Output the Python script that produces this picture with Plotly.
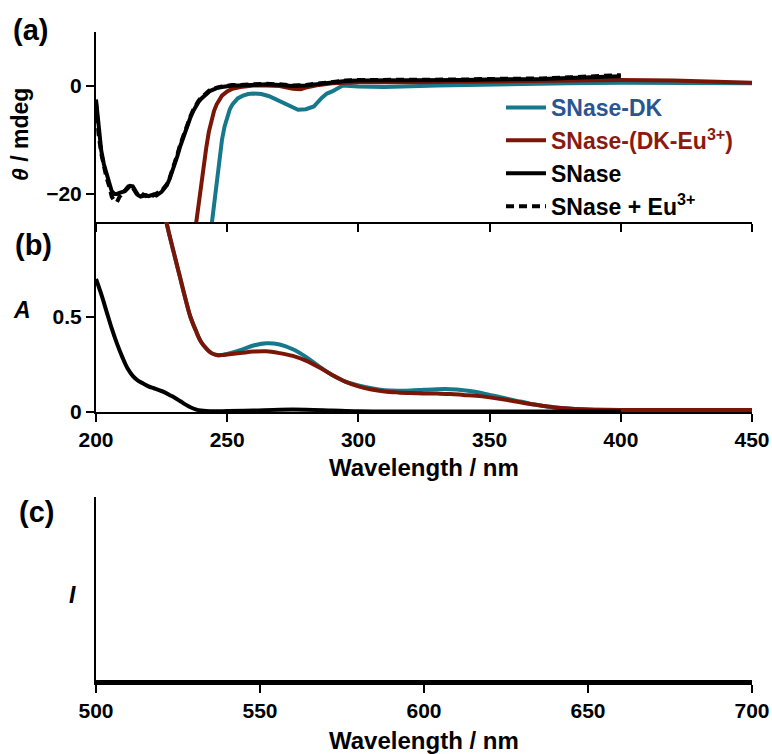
import plotly.graph_objects as go

W, H = 772, 754

# ---------------- data ----------------
# (a) CD spectra
cd_snase_wl = [200,201,202,203,204,205,206,207,208,209,210,211,212,213,214,215,216,217,218,219,220,
               221,222,223,224,225,226,227,228,229,230,231,232,233,234,235,236,237,238,239,240,241,
               242,243,244,245,246,248,250,252,255,260,265,270,275,280,285,290,295,300,310,320,330,
               340,350,360,370,380,390,400]
cd_snase = [-2.5,-8,-12,-14.5,-16,-18,-19.5,-20,-20,-19.8,-19.6,-19.5,-19,-18.5,-18.6,-19.5,-20.2,-20.5,
            -20.3,-20.2,-20.4,-20.3,-20.1,-20.3,-20,-19.6,-19,-18.4,-17.3,-16,-14.5,-13,-11.3,-9.8,-8.3,
            -7,-5.8,-4.7,-3.8,-3,-2.4,-1.9,-1.5,-1.1,-0.8,-0.6,-0.4,-0.2,0,0.1,0.1,0.2,0.3,0.2,0.0,0.1,
            0.4,0.7,0.9,1.0,1.0,1.0,1.1,1.1,1.2,1.2,1.3,1.5,1.7,1.8]
cd_snase_eu = [-3,-9,-12.5,-15,-17,-18.5,-20.5,-21.3,-21.5,-20.5,-19.8,-19.4,-18.8,-18.3,-18.8,-19.7,
               -20.4,-20.6,-20.1,-20.4,-20.2,-20.5,-20.2,-20.1,-19.8,-19.4,-18.8,-18.2,-17.1,-15.8,-14.2,
               -12.7,-11,-9.5,-8,-6.8,-5.6,-4.5,-3.6,-2.8,-2.2,-1.7,-1.3,-0.9,-0.6,-0.4,-0.3,-0.1,0.1,0.2,
               0.2,0.3,0.4,0.3,0.1,0.2,0.5,0.8,1.0,1.1,1.1,1.1,1.2,1.2,1.3,1.3,1.4,1.6,1.8,2.0]

cd_dkeu_wl = [238,239,240,241,242,243,244,245,246,247,248,250,252,255,258,260,265,270,275,278,280,285,
              290,300,320,350,380,400,420,450]
cd_dkeu = [-26,-22,-18.5,-15,-11.5,-8.5,-6.3,-4.6,-3.4,-2.5,-1.8,-1,-0.5,-0.2,0,0.1,0.1,0,-0.5,-0.6,
           -0.3,0.2,0.5,0.7,0.7,0.9,1.0,1.1,1.0,0.6]

cd_dk_wl = [244,245,246,247,248,249,250,251,252,254,256,258,260,263,266,270,274,277,280,283,286,288,290,
            294,300,310,330,350,380,400,420,450]
cd_dk = [-26,-22,-17.5,-13.5,-10,-7.5,-5.6,-4.3,-3.4,-2.3,-1.8,-1.5,-1.4,-1.5,-1.9,-2.8,-3.9,-4.4,-4.3,
         -3.8,-2.2,-1.4,-1.0,0.1,-0.1,-0.2,0.1,0.3,0.5,0.6,0.6,0.5]

# (b) absorption spectra
ab_snase_wl = [200,202,204,206,208,210,212,214,216,218,220,222,224,226,228,230,232,234,236,238,240,245,
               250,260,270,280,290,300,320,350,380,400]
ab_snase = [0.70,0.62,0.53,0.44,0.36,0.29,0.23,0.19,0.165,0.15,0.135,0.125,0.115,0.105,0.09,0.075,0.058,
            0.04,0.025,0.014,0.008,0.004,0.005,0.008,0.012,0.012,0.008,0.004,0.003,0.003,0.003,0.003]

ab_dk_wl = [226,228,230,232,234,236,238,240,242,244,246,248,250,255,260,265,270,275,280,285,290,295,300,
            305,310,315,320,325,330,335,340,345,350,355,360,365,370,375,380,385,390,400,420,450]
ab_dk = [1.05,0.93,0.82,0.71,0.60,0.50,0.43,0.37,0.335,0.31,0.30,0.30,0.305,0.325,0.35,0.362,0.355,0.33,
         0.29,0.24,0.195,0.16,0.14,0.125,0.115,0.112,0.113,0.117,0.12,0.12,0.115,0.105,0.09,0.075,0.06,
         0.045,0.033,0.024,0.018,0.014,0.012,0.011,0.01,0.01]
ab_dkeu = [1.05,0.93,0.82,0.71,0.60,0.50,0.43,0.37,0.335,0.31,0.30,0.30,0.303,0.31,0.318,0.32,0.31,0.295,
           0.27,0.235,0.195,0.16,0.135,0.118,0.108,0.103,0.1,0.098,0.097,0.095,0.09,0.085,0.077,0.067,
           0.055,0.043,0.033,0.024,0.018,0.014,0.012,0.011,0.01,0.01]

# (c) emission spectra (flat)
em_wl = [500,550,600,650,700]
em_dk = [0,0,0,0,0]
em_dkeu = [0,0,0,0,0]
em_snase = [0,0,0,0,0]
em_snase_eu = [0,0,0,0,0]

x_ticks_ab = [200,250,300,350,400,450]
x_ticks_em = [500,550,600,650,700]

# ---------------- style ----------------
TEAL = "#16788b"
DRED = "#7b1607"
LBLUE = "#2b5592"
LRED = "#8a1a10"
FONT = "Liberation Sans, Arial, sans-serif"
LW = 4

def px(x):
    return x / W

def py(y):
    return 1 - y / H

fig = go.Figure()

names = [f"<span style='color:{LBLUE}'>SNase-DK</span>",
         f"<span style='color:{LRED}'>SNase-(DK-Eu<sup>3+</sup>)</span>",
         "SNase",
         "SNase + Eu<sup>3+</sup>"]

# panel a
fig.add_trace(go.Scatter(x=cd_dk_wl, y=cd_dk, mode="lines", line=dict(color=TEAL, width=LW),
                         name=names[0], legendgroup="g1", xaxis="x", yaxis="y"))
fig.add_trace(go.Scatter(x=cd_dkeu_wl, y=cd_dkeu, mode="lines", line=dict(color=DRED, width=LW),
                         name=names[1], legendgroup="g2", xaxis="x", yaxis="y"))
fig.add_trace(go.Scatter(x=cd_snase_wl, y=cd_snase, mode="lines", line=dict(color="black", width=LW),
                         name=names[2], legendgroup="g3", xaxis="x", yaxis="y"))
fig.add_trace(go.Scatter(x=cd_snase_wl, y=cd_snase_eu, mode="lines",
                         line=dict(color="black", width=LW, dash="8px,5px"),
                         name=names[3], legendgroup="g4", xaxis="x", yaxis="y"))

# panel b
fig.add_trace(go.Scatter(x=ab_dk_wl, y=ab_dk, mode="lines", line=dict(color=TEAL, width=LW, shape="spline"),
                         showlegend=False, xaxis="x2", yaxis="y2"))
fig.add_trace(go.Scatter(x=ab_dk_wl, y=ab_dkeu, mode="lines", line=dict(color=DRED, width=LW, shape="spline"),
                         showlegend=False, xaxis="x2", yaxis="y2"))
fig.add_trace(go.Scatter(x=ab_snase_wl, y=ab_snase, mode="lines", line=dict(color="black", width=LW, shape="spline"),
                         showlegend=False, xaxis="x2", yaxis="y2"))

# panel c
for yy, col, dash in [(em_dk, TEAL, "solid"), (em_dkeu, DRED, "solid"),
                      (em_snase, "black", "solid"), (em_snase_eu, "black", "8px,5px")]:
    fig.add_trace(go.Scatter(x=em_wl, y=yy, mode="lines", line=dict(color=col, width=LW, dash=dash),
                             showlegend=False, xaxis="x3", yaxis="y3"))

tickfont = dict(family=FONT, size=21, color="black", weight="bold")
common = dict(showline=True, linecolor="black", linewidth=2, ticks="outside", ticklen=8,
              tickwidth=1.5, tickcolor="black", showgrid=False, zeroline=False, tickfont=tickfont,
              automargin=False)

xd = [px(96), px(752)]
fig.update_layout(
    width=W, height=H, autosize=False, margin=dict(l=0, r=0, t=0, b=0, pad=0),
    paper_bgcolor="white", plot_bgcolor="white",
    font=dict(family=FONT, color="black", weight="bold"),
    xaxis=dict(domain=xd, range=[200, 450], anchor="y", tickvals=x_ticks_ab,
               showticklabels=False, **common),
    yaxis=dict(domain=[py(222), py(32)], range=[-25.2, 10], anchor="x", tickvals=[0, -20],
               ticktext=["0", "\u221220"], **common),
    xaxis2=dict(domain=xd, range=[200, 450], anchor="y2", tickvals=x_ticks_ab, **common),
    yaxis2=dict(domain=[py(412), py(222)], range=[0, 1.0], anchor="x2", tickvals=[0, 0.5],
                ticktext=["0", "0.5"], **common),
    xaxis3=dict(domain=xd, range=[500, 700], anchor="y3", tickvals=x_ticks_em, **common),
    yaxis3=dict(domain=[py(683), py(497)], range=[-0.005, 1], anchor="x3", showline=True,
                linecolor="black", linewidth=2, ticks="", showticklabels=False, showgrid=False,
                zeroline=False, automargin=False),
    legend=dict(x=px(501), y=py(86), xanchor="left", yanchor="top", bgcolor="rgba(0,0,0,0)",
                font=dict(family=FONT, size=23, color="black", weight="bold"),
                tracegroupgap=0, itemwidth=40),
    showlegend=True,
)

ann = [
    ("(a)", 31, 30, 29, 0),
    ("(b)", 33, 245, 29, 0),
    ("(c)", 36, 512, 29, 0),
    ("<i>θ</i> / mdeg", 20, 135, 23, -90),
    ("<i>A</i>", 22, 310, 23, 0),
    ("<i>I</i>", 72, 595, 23, 0),
    ("Wavelength / nm", 424, 467, 24, 0),
    ("Wavelength / nm", 424, 740, 24, 0),
]
for text, x, y, size, ang in ann:
    fig.add_annotation(text=text, x=px(x), y=py(y), xref="paper", yref="paper", showarrow=False,
                       xanchor="center", yanchor="middle", textangle=ang,
                       font=dict(family=FONT, size=size, color="black", weight="bold"))

fig.write_html("out.html")
